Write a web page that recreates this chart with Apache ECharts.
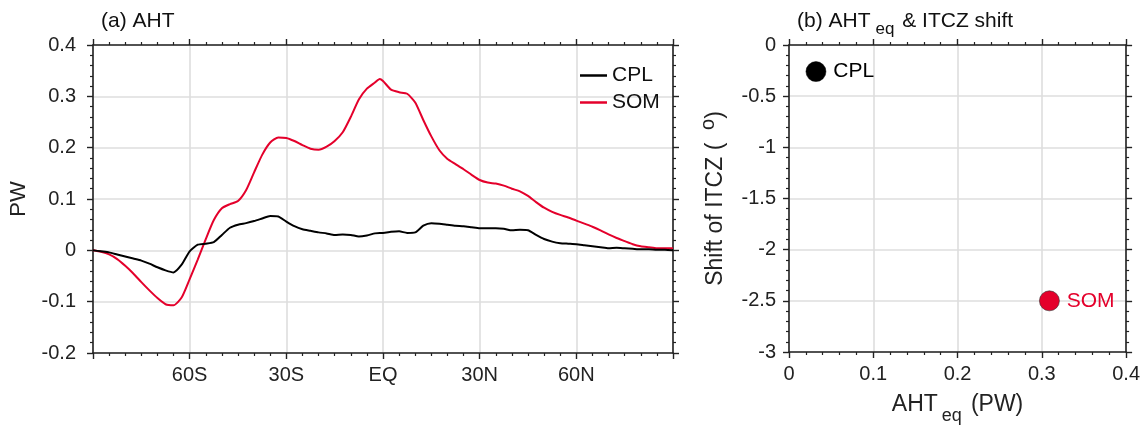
<!DOCTYPE html>
<html>
<head>
<meta charset="utf-8">
<title>AHT and ITCZ shift</title>
<script src="https://cdn.jsdelivr.net/npm/echarts@6/dist/echarts.min.js"></script>
<style>
  html, body { margin: 0; padding: 0; background: #fff; }
  #chart { width: 1143px; height: 430px; }
</style>
</head>
<body>
<div id="chart"></div>
<script>
// Latitude grid (degrees, south negative) for the atmospheric heat transport profiles
const latitudes = [
  -90, -87.5, -85, -82.5, -80, -77.5, -75, -72.5, -70, -67.5, -65, -62.5,
  -60, -57.5, -55, -52.5, -50, -47.5, -45, -42.5, -40, -37.5, -35, -32.5,
  -30, -27.5, -25, -22.5, -20, -17.5, -15, -12.5, -10, -7.5, -5, -2.5, -1,
  0, 2.5, 5, 7.5, 10, 12.5, 15, 17.5, 20, 22.5, 25, 27.5,
  30, 32.5, 35, 37.5, 40, 42.5, 45, 47.5, 50, 52.5, 55, 57.5,
  60, 62.5, 65, 67.5, 70, 72.5, 75, 77.5, 80, 82.5, 85, 87.5, 90
];

// AHT change (PW), coupled run
const cplAht = [
  0.000, -0.002, -0.004, -0.008, -0.012, -0.016, -0.020, -0.026, -0.033, -0.039, -0.043, -0.028,
  -0.002, 0.011, 0.013, 0.016, 0.030, 0.044, 0.050, 0.053, 0.057, 0.062, 0.067, 0.066,
  0.056, 0.047, 0.041, 0.038, 0.035, 0.033, 0.030, 0.031, 0.030, 0.027, 0.029, 0.033, 0.034,
  0.034, 0.036, 0.037, 0.034, 0.035, 0.048, 0.053, 0.052, 0.050, 0.048, 0.047, 0.045,
  0.043, 0.043, 0.043, 0.042, 0.039, 0.040, 0.039, 0.030, 0.022, 0.017, 0.014, 0.013,
  0.012, 0.010, 0.008, 0.006, 0.004, 0.005, 0.004, 0.003, 0.002, 0.002, 0.001, 0.001, 0.000
];

// AHT change (PW), slab-ocean run
const somAht = [
  0.000, -0.003, -0.008, -0.017, -0.030, -0.045, -0.062, -0.078, -0.093, -0.105, -0.107, -0.092,
  -0.056, -0.018, 0.022, 0.059, 0.082, 0.090, 0.096, 0.117, 0.152, 0.186, 0.210, 0.220,
  0.219, 0.213, 0.205, 0.198, 0.196, 0.202, 0.213, 0.230, 0.260, 0.294, 0.315, 0.327, 0.334,
  0.330, 0.313, 0.308, 0.305, 0.288, 0.254, 0.222, 0.195, 0.178, 0.168, 0.158, 0.147,
  0.137, 0.132, 0.130, 0.126, 0.120, 0.115, 0.106, 0.094, 0.083, 0.075, 0.069, 0.064,
  0.058, 0.052, 0.046, 0.039, 0.031, 0.024, 0.018, 0.012, 0.008, 0.006, 0.004, 0.004, 0.004
];

// Panel (b): equatorial AHT (PW) against ITCZ shift (degrees)
const experiments = ['CPL', 'SOM'];
const ahtEq = [0.032, 0.309];
const itczShift = [-0.26, -2.50];

// Latitude tick labels
const latTickLabels = { '-60': '60S', '-30': '30S', '0': 'EQ', '30': '30N', '60': '60N' };

const RED = '#E4002B';
const INK = '#222';
const FONT = '"Liberation Sans", Arial, Helvetica, sans-serif';

const grids = [
  { left: 90, top: 45, width: 583, height: 308 },
  { left: 789, top: 45, width: 338, height: 308 }
];

function axisBase(opts) {
  return Object.assign({
    type: 'value',
    axisLine: { show: true, onZero: false, lineStyle: { color: INK, width: 1.6 } },
    axisTick: { show: true, inside: false, length: 6, lineStyle: { color: INK, width: 1.4 } },
    minorTick: { show: true, length: 3, lineStyle: { color: INK, width: 1.2 } },
    splitLine: { show: false },
    axisLabel: { show: false }
  }, opts);
}

function gridLines() {
  return { show: true, lineStyle: { color: '#dedede', width: 1.6 } };
}

function tickLabels(extra) {
  return Object.assign({
    show: true, color: '#222', fontSize: 20, fontFamily: FONT
  }, extra);
}

const option = {
  animation: false,
  backgroundColor: '#fff',
  textStyle: { fontFamily: FONT },
  title: [
    {
      text: '(a) AHT',
      left: 101, top: 11, padding: 0,
      textStyle: { fontSize: 21, fontWeight: 'normal', color: '#111', fontFamily: FONT }
    },
    {
      text: '(b) AHT{sub|eq} & ITCZ shift',
      left: 797, top: 4, padding: 0,
      textStyle: {
        fontSize: 21, fontWeight: 'normal', color: '#111', fontFamily: FONT,
        rich: { sub: { fontSize: 17, padding: [17, 2, 0, 5], color: '#111', fontFamily: FONT } }
      }
    }
  ],
  legend: {
    data: [
      { name: 'CPL', icon: 'rect', itemStyle: { color: '#000' } },
      { name: 'SOM', icon: 'rect', itemStyle: { color: RED } }
    ],
    orient: 'vertical',
    left: 575, top: 60,
    itemWidth: 27, itemHeight: 2.5, itemGap: 6,
    textStyle: { fontSize: 21, lineHeight: 21, color: '#111', fontFamily: FONT }
  },
  grid: grids,
  xAxis: [
    axisBase({
      gridIndex: 0, position: 'bottom', min: -90, max: 90, interval: 30,
      minorTick: { show: true, splitNumber: 6, length: 3, lineStyle: { color: INK, width: 1.2 } },
      splitLine: gridLines(),
      axisLabel: tickLabels({ margin: 12, formatter: v => latTickLabels[String(v)] || '' })
    }),
    axisBase({
      gridIndex: 0, position: 'top', min: -90, max: 90, interval: 30,
      minorTick: { show: true, splitNumber: 6, length: 3, lineStyle: { color: INK, width: 1.2 } }
    }),
    axisBase({
      gridIndex: 1, position: 'bottom', min: 0, max: 0.4, interval: 0.1,
      minorTick: { show: true, splitNumber: 5, length: 3, lineStyle: { color: INK, width: 1.2 } },
      splitLine: gridLines(),
      axisLabel: tickLabels({ margin: 12, formatter: v => String(+v.toFixed(1)) }),
      name: 'AHT{sub|eq}(PW)',
      nameLocation: 'middle', nameGap: 32,
      nameTextStyle: {
        fontSize: 23, color: '#222', fontFamily: FONT,
        rich: { sub: { fontSize: 18, padding: [23, 9, 0, 4], color: '#222', fontFamily: FONT } }
      }
    }),
    axisBase({
      gridIndex: 1, position: 'top', min: 0, max: 0.4, interval: 0.1,
      minorTick: { show: true, splitNumber: 5, length: 3, lineStyle: { color: INK, width: 1.2 } }
    })
  ],
  yAxis: [
    axisBase({
      gridIndex: 0, position: 'left', min: -0.2, max: 0.4, interval: 0.1,
      minorTick: { show: true, splitNumber: 5, length: 3, lineStyle: { color: INK, width: 1.2 } },
      splitLine: gridLines(),
      axisLabel: tickLabels({ margin: 17, formatter: v => String(+v.toFixed(1)) }),
      name: 'PW', nameLocation: 'middle', nameGap: 63, nameRotate: 90,
      nameTextStyle: { fontSize: 22, color: '#222', fontFamily: FONT }
    }),
    axisBase({
      gridIndex: 0, position: 'right', min: -0.2, max: 0.4, interval: 0.1,
      minorTick: { show: true, splitNumber: 5, length: 3, lineStyle: { color: INK, width: 1.2 } }
    }),
    axisBase({
      gridIndex: 1, position: 'left', min: -3, max: 0, interval: 0.5,
      minorTick: { show: true, splitNumber: 5, length: 3, lineStyle: { color: INK, width: 1.2 } },
      splitLine: gridLines(),
      axisLabel: tickLabels({ margin: 13, formatter: v => String(+v.toFixed(1)) }),
      name: 'Shift of ITCZ (  {sup|o})', nameLocation: 'middle', nameGap: 55, nameRotate: 90,
      nameTextStyle: {
        fontSize: 23, color: '#222', fontFamily: FONT,
        rich: { sup: { fontSize: 20, padding: [0, 0, 16, 0], color: '#222', fontFamily: FONT } }
      }
    }),
    axisBase({
      gridIndex: 1, position: 'right', min: -3, max: 0, interval: 0.5,
      minorTick: { show: true, splitNumber: 5, length: 3, lineStyle: { color: INK, width: 1.2 } }
    })
  ],
  series: [
    {
      name: 'CPL', type: 'line', xAxisIndex: 0, yAxisIndex: 0,
      data: latitudes.map((lat, i) => [lat, cplAht[i]]),
      showSymbol: false, symbol: 'none', smooth: 0.2,
      lineStyle: { color: '#000', width: 2 }, itemStyle: { color: '#000' }, z: 3
    },
    {
      name: 'SOM', type: 'line', xAxisIndex: 0, yAxisIndex: 0,
      data: latitudes.map((lat, i) => [lat, somAht[i]]),
      showSymbol: false, symbol: 'none', smooth: 0.2,
      lineStyle: { color: RED, width: 2 }, itemStyle: { color: RED }, z: 2
    },
    {
      name: 'shift', type: 'scatter', xAxisIndex: 2, yAxisIndex: 2,
      symbolSize: 20,
      data: experiments.map((name, i) => ({
        name: name,
        value: [ahtEq[i], itczShift[i]],
        itemStyle: i === 0
          ? { color: '#000', borderColor: '#000', borderWidth: 0.5, opacity: 1 }
          : { color: RED, borderColor: '#333', borderWidth: 0.6, opacity: 1 },
        label: { color: i === 0 ? '#000' : RED }
      })),
      itemStyle: { opacity: 1 },
      label: {
        show: true, position: 'right', distance: 7,
        fontSize: 21, fontFamily: FONT,
        formatter: p => p.name
      }
    }
  ]
};

const chart = echarts.init(document.getElementById('chart'), null, { renderer: 'canvas' });
chart.setOption(option);
</script>
</body>
</html>
